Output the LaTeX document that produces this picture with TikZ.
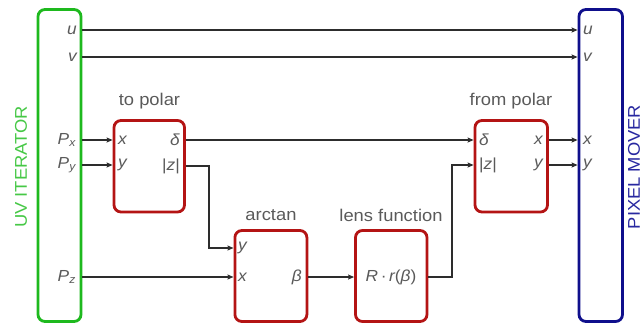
\documentclass[tikz,border=0pt]{standalone}
\usepackage{fontspec}
\setmainfont{Liberation Sans}[FakeStretch=1.08]
\usetikzlibrary{arrows.meta}
\definecolor{boxgreen}{RGB}{30,185,30}
\definecolor{txtgreen}{RGB}{70,200,70}
\definecolor{boxred}{RGB}{180,20,20}
\definecolor{boxblue}{RGB}{15,15,140}
\definecolor{txtblue}{RGB}{40,40,160}
\definecolor{txtgray}{RGB}{90,90,90}
\definecolor{linegray}{RGB}{45,45,45}
\newcommand{\sbs}[2]{#1\textsubscript{#2}}
\begin{document}
\begin{tikzpicture}[x=1pt,y=-1pt,
  blk/.style={draw, line width=2.8pt, rounded corners=7pt, fill=white, inner sep=0pt},
  ttl/.style={font=\fontsize{17}{20}\selectfont, text=txtgray, inner sep=0pt},
  lbl/.style={font=\fontsize{16}{19}\selectfont\itshape, text=txtgray, inner sep=0pt},
  side/.style={font=\fontsize{17}{20}\selectfont, inner sep=0pt, rotate=90},
  conn/.style={draw=linegray, line width=1.1pt},
  arr/.style={conn, -{Stealth[length=6pt,width=5pt,inset=1pt]}}]
\useasboundingbox (0,0) rectangle (644,324);
% big blocks
\node[blk, draw=boxgreen, minimum width=43pt, minimum height=312pt] (uv) at (59.5,165.5) {};
\node[blk, draw=boxblue, minimum width=43.5pt, minimum height=312pt] (pm) at (600.75,165.5) {};
\node[side, text=txtgreen] (uvt) at (21,167) {UV ITERATOR};
\node[side, text=txtblue] (pmt) at (634,167) {PIXEL MOVER};
% function blocks
\node[blk, draw=boxred, minimum width=70.5pt, minimum height=91.5pt] (tp) at (149.25,166.25) {};
\node[blk, draw=boxred, minimum width=72.5pt, minimum height=91.5pt] (fp) at (511.25,166.25) {};
\node[blk, draw=boxred, minimum width=72pt, minimum height=91pt] (at) at (270.9,276) {};
\node[blk, draw=boxred, minimum width=71.5pt, minimum height=91pt] (ln) at (391.25,276) {};
% titles
\node[ttl] (tpt) at (149.5,101) {to polar};
\node[ttl] (fpt) at (511,101) {from polar};
\node[ttl] (att) at (271,215) {arctan};
\node[ttl] (lnt) at (391,215) {lens function};
% UV labels
\node[lbl, anchor=east] (uvU) at (77,30) {u};
\node[lbl, anchor=east] (uvV) at (77,57) {v};
\node[lbl, anchor=east] (uvPx) at (76,140) {\sbs{P}{x}};
\node[lbl, anchor=east] (uvPy) at (76,165) {\sbs{P}{y}};
\node[lbl, anchor=east] (uvPz) at (76,277) {\sbs{P}{z}};
% to polar labels
\node[lbl, anchor=west] (tpX) at (118,140) {x};
\node[lbl, anchor=west] (tpY) at (118,165) {y};
\node[lbl, anchor=east] (tpD) at (180,140) {δ};
\node[lbl, anchor=east] (tpZ) at (180,166) {\upshape|\itshape z\upshape|};
% arctan labels
\node[lbl, anchor=west] (atY) at (238,248) {y};
\node[lbl, anchor=west] (atX) at (238,277) {x};
\node[lbl, anchor=east] (atB) at (302,277) {β};
% lens label
\node[lbl] (lnT) at (391,277) {R\,\upshape·\,\itshape r\upshape(\itshape β\upshape)};
% from polar labels
\node[lbl, anchor=west] (fpD) at (479,140) {δ};
\node[lbl, anchor=west] (fpZ) at (479,165) {\upshape|\itshape z\upshape|};
\node[lbl, anchor=east] (fpX) at (543,140) {x};
\node[lbl, anchor=east] (fpY) at (543,165) {y};
% pixel mover labels
\node[lbl, anchor=west] (pmU) at (583,30) {u};
\node[lbl, anchor=west] (pmV) at (583,57) {v};
\node[lbl, anchor=west] (pmX) at (583,140) {x};
\node[lbl, anchor=west] (pmY) at (583,165) {y};
% connectors
\draw[arr] (uv.east |- pmU.west) -- (pm.west |- pmU.west);
\draw[arr] (uv.east |- pmV.west) -- (pm.west |- pmV.west);
\draw[arr] (uv.east |- tpX.west) -- (tp.west |- tpX.west);
\draw[arr] (uv.east |- tpY.west) -- (tp.west |- tpY.west);
\draw[arr] (tp.east |- tpD.east) -- (fp.west |- tpD.east);
\coordinate (zc) at (209,166);
\draw[arr] (tp.east |- tpZ.east) -- (zc) |- (at.west |- atY.west);
\draw[arr] (uv.east |- atX.west) -- (at.west |- atX.west);
\draw[arr] (at.east |- atB.east) -- (ln.west |- atB.east);
\coordinate (lc) at (452,277);
\draw[arr] (ln.east |- lc) -- (lc) |- (fp.west |- fpZ.west);
\draw[arr] (fp.east |- fpX.east) -- (pm.west |- fpX.east);
\draw[arr] (fp.east |- fpY.east) -- (pm.west |- fpY.east);
\end{tikzpicture}
\end{document}
